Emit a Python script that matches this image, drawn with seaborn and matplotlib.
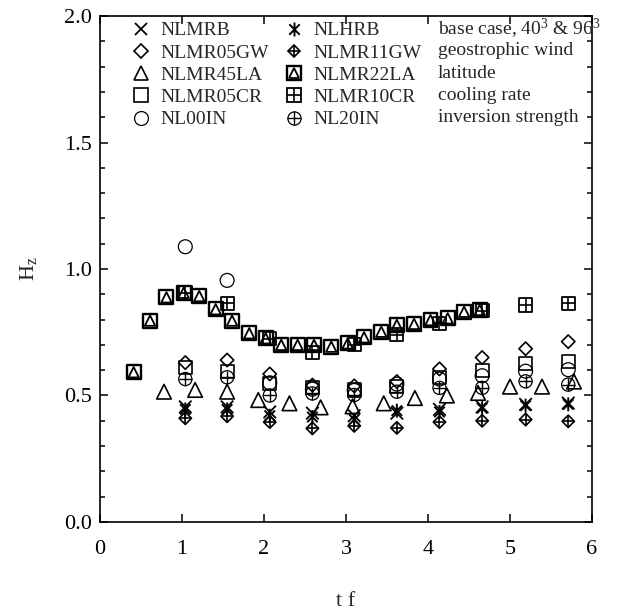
import numpy as np
import matplotlib
matplotlib.use("Agg")
import matplotlib.pyplot as plt
from matplotlib.lines import Line2D
from matplotlib.path import Path
from matplotlib.legend_handler import HandlerTuple
from matplotlib.ticker import MultipleLocator
import seaborn as sns

# ---- data: vertical heat-flux scale H_z against non-dimensional time t f ----
t_main = [1.04, 1.55, 2.07, 2.59, 3.10, 3.62, 4.14, 4.66, 5.19, 5.71]

nlmrb    = [0.455, 0.455, 0.435, 0.430, 0.420, 0.430, 0.445, 0.455, 0.465, 0.470]
nlhrb    = [0.445, 0.445, 0.420, 0.415, 0.405, 0.440, 0.435, 0.450, 0.460, 0.465]
nlmr05gw = [0.630, 0.640, 0.585, 0.541, 0.538, 0.555, 0.605, 0.650, 0.685, 0.713]
nlmr11gw = [0.410, 0.418, 0.395, 0.370, 0.380, 0.372, 0.395, 0.400, 0.405, 0.398]
nlmr05cr = [0.612, 0.596, 0.548, 0.530, 0.522, 0.537, 0.572, 0.598, 0.627, 0.634]
nlmr10cr = [0.905, 0.864, 0.725, 0.670, 0.700, 0.740, 0.785, 0.835, 0.858, 0.864]
nl00in   = [1.088, 0.955, 0.550, 0.525, 0.520, 0.545, 0.565, 0.578, 0.596, 0.602]
nl20in   = [0.565, 0.572, 0.500, 0.508, 0.502, 0.515, 0.530, 0.530, 0.556, 0.543]

t_lat45  = [0.78, 1.16, 1.55, 1.93, 2.31, 2.69, 3.08, 3.46, 3.84, 4.23, 4.61, 5.00, 5.39, 5.78]
nlmr45la = [0.515, 0.522, 0.515, 0.482, 0.469, 0.453, 0.457, 0.469, 0.490, 0.500,
            0.510, 0.535, 0.535, 0.555]

t_lat22  = [0.41, 0.61, 0.81, 1.02, 1.21, 1.41, 1.61, 1.82, 2.02, 2.21, 2.41, 2.61,
            2.82, 3.02, 3.22, 3.43, 3.62, 3.83, 4.03, 4.24, 4.44, 4.63]
nlmr22la = [0.592, 0.796, 0.888, 0.906, 0.893, 0.841, 0.796, 0.746, 0.726, 0.700,
            0.700, 0.700, 0.693, 0.706, 0.730, 0.752, 0.779, 0.783, 0.798, 0.805,
            0.831, 0.838]

group_labels = ["base case, 40$^3$ & 96$^3$", "geostrophic wind", "latitude",
                "cooling rate", "inversion strength"]

# ---- style ----
sns.set_theme(style="ticks")
plt.rcParams["font.family"] = ["Liberation Serif", "DejaVu Serif"]
plt.rcParams["mathtext.fontset"] = "custom"
plt.rcParams["mathtext.rm"] = "Liberation Serif"
plt.rcParams["mathtext.it"] = "Liberation Serif:italic"

FS_TICK = 16
FS_LEG = 14
K = "black"

# asterisk marker: vertical bar plus a cross
ASTER = Path([(0, -1), (0, 1), (-0.75, -0.75), (0.75, 0.75), (-0.75, 0.75), (0.75, -0.75)],
             [Path.MOVETO, Path.LINETO, Path.MOVETO, Path.LINETO, Path.MOVETO, Path.LINETO])

fig = plt.figure(figsize=(6.22, 6.11), dpi=100)
ax = fig.add_axes([0.1608, 0.1457, 0.7910, 0.8281])


def draw(x, y, marker, ms, lw=1.1, z=3):
    n_before = len(ax.collections)
    sns.scatterplot(x=x, y=y, marker=marker, s=ms ** 2, color=K, linewidth=lw,
                    ax=ax, zorder=z, legend=False)
    coll = ax.collections[n_before]
    coll.set_facecolor("none")
    coll.set_edgecolor(K)
    coll.set_linewidth(lw)


# series (hollow markers, some drawn as overlays of two shapes)
draw(t_lat22, nlmr22la, "s", 10, lw=1.7)
draw(t_lat22, nlmr22la, "^", 7.5, lw=1.3)
draw(t_main, nlmr10cr, "s", 9.5, lw=1.3)
draw(t_main, nlmr10cr, "+", 9.5, lw=1.2)
draw(t_main, nl00in, "o", 10, lw=0.9)
draw(t_main, nl20in, "o", 9.5, lw=0.9)
draw(t_main, nl20in, "+", 9.5, lw=1.0)
draw(t_main, nlmr05cr, "s", 9.5, lw=1.2)
draw(t_main, nlmr05gw, "D", 6.8, lw=1.2)
draw(t_lat45, nlmr45la, "^", 10.5, lw=1.2)
draw(t_main, nlmrb, "x", 9, lw=1.3)
draw(t_main, nlhrb, ASTER, 10, lw=1.4)
draw(t_main, nlmr11gw, "D", 6.3, lw=1.2)
draw(t_main, nlmr11gw, "+", 8.8, lw=1.2)

# ---- axes ----
ax.set_xlim(0, 6)
ax.set_ylim(0, 2.0)
ax.set_xticks(range(0, 7))
ax.set_yticks([0.0, 0.5, 1.0, 1.5, 2.0])
ax.yaxis.set_minor_locator(MultipleLocator(0.1))
ax.tick_params(which="both", direction="in", top=True, right=True,
               labelsize=FS_TICK, colors=K, width=1.1)
ax.tick_params(which="major", length=6)
ax.tick_params(which="minor", length=3.5)
ax.tick_params(axis="x", which="major", pad=13)
ax.tick_params(axis="y", which="major", pad=6)
for sp in ax.spines.values():
    sp.set_linewidth(1.2)
    sp.set_color(K)

ax.set_xlabel("t f", fontsize=FS_TICK, labelpad=24)
ax.set_ylabel("H$_\\mathrm{z}$", fontsize=FS_TICK, labelpad=18)


# ---- legend ----
def h(marker, ms, lw=1.1):
    return Line2D([], [], ls="", marker=marker, ms=ms, mfc="none", mec=K, mew=lw)


handles = [
    h("x", 9, 1.3),
    h("D", 6.8, 1.2),
    h("^", 10.5, 1.2),
    h("s", 9.5, 1.2),
    h("o", 10, 0.9),
    h(ASTER, 10, 1.4),
    (h("D", 6.3, 1.2), h("+", 8.8, 1.2)),
    (h("s", 10, 1.7), h("^", 7.5, 1.3)),
    (h("s", 9.5, 1.3), h("+", 9.5, 1.2)),
    (h("o", 9.5, 0.9), h("+", 9.5, 1.0)),
]
labels = ["NLMRB", "NLMR05GW", "NLMR45LA", "NLMR05CR", "NL00IN",
          "NLHRB", "NLMR11GW", "NLMR22LA", "NLMR10CR", "NL20IN"]
ax.legend(handles, labels, ncol=2, loc="upper left", bbox_to_anchor=(0.048, 1.004),
          frameon=False, fontsize=FS_LEG, handlelength=1.0, handletextpad=0.5,
          labelspacing=0.24, columnspacing=0.8, borderaxespad=0.0,
          handler_map={tuple: HandlerTuple(ndivide=1)})

row_y = [0.974, 0.931, 0.887, 0.843, 0.800]
for yy, txt in zip(row_y, group_labels):
    ax.text(0.687, yy, txt, transform=ax.transAxes, fontsize=FS_LEG, va="center", ha="left")

fig.savefig("out.png", dpi=100)
